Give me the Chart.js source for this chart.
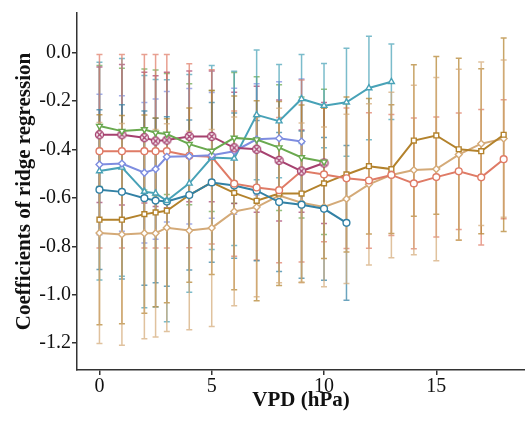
<!DOCTYPE html>
<html>
<head>
<meta charset="utf-8">
<script src="https://cdn.jsdelivr.net/npm/chart.js@4/dist/chart.umd.min.js"></script>
<style>
  html, body { margin: 0; padding: 0; background: #fff; }
</style>
</head>
<body>
<canvas id="ridge" width="525" height="422"></canvas>
<script>
// VPD bins (hPa)
const vpd = [0, 1, 2, 2.5, 3, 4, 5, 6, 7, 8, 9, 10, 11, 12, 13, 14, 15, 16, 17, 18];

// mean ridge coefficients and standard deviations per group
const greenMean = [-0.303, -0.324, -0.317, -0.331, -0.336, -0.378, -0.406, -0.352, -0.359, -0.392, -0.433, -0.451];
const greenSd   = [0.25, 0.26, 0.25, 0.26, 0.25, 0.25, 0.25, 0.27, 0.26, 0.26, 0.25, 0.30];

const magentaMean = [-0.339, -0.339, -0.351, -0.365, -0.361, -0.346, -0.346, -0.393, -0.399, -0.445, -0.489, -0.456];
const magentaSd   = [0.28, 0.29, 0.27, 0.27, 0.28, 0.27, 0.27, 0.23, 0.26, 0.25, 0.17, 0.25];

const salmonMean = [-0.407, -0.407, -0.407, -0.407, -0.407, -0.426, -0.43, -0.541, -0.557, -0.568, -0.489, -0.503, -0.519, -0.528, -0.505, -0.54, -0.514, -0.49, -0.515, -0.44];
const salmonSd   = [0.40, 0.40, 0.40, 0.40, 0.40, 0.38, 0.36, 0.30, 0.30, 0.30, 0.376, 0.278, 0.29, 0.28, 0.25, 0.27, 0.248, 0.241, 0.28, 0.246];

const lilacMean = [-0.462, -0.458, -0.496, -0.481, -0.43, -0.428, -0.424, -0.407, -0.358, -0.354, -0.367];
const lilacSd   = [0.29, 0.28, 0.29, 0.29, 0.27, 0.28, 0.26, 0.26, 0.23, 0.234, 0.258];

const cyanMean = [-0.489, -0.474, -0.574, -0.581, -0.612, -0.54, -0.433, -0.437, -0.257, -0.283, -0.191, -0.219, -0.205, -0.146, -0.12];
const cyanSd   = [0.45, 0.45, 0.48, 0.47, 0.50, 0.45, 0.38, 0.36, 0.268, 0.234, 0.184, 0.174, 0.223, 0.214, 0.156];

const blueMean = [-0.566, -0.575, -0.601, -0.611, -0.615, -0.588, -0.536, -0.549, -0.57, -0.617, -0.628, -0.645, -0.703];
const blueSd   = [0.33, 0.36, 0.36, 0.34, 0.35, 0.31, 0.33, 0.30, 0.29, 0.287, 0.304, 0.295, 0.32];

const brownMean = [-0.69, -0.69, -0.667, -0.66, -0.653, -0.588, -0.536, -0.579, -0.612, -0.582, -0.582, -0.54, -0.503, -0.469, -0.481, -0.363, -0.342, -0.399, -0.407, -0.339];
const brownSd   = [0.434, 0.43, 0.41, 0.39, 0.38, 0.36, 0.38, 0.40, 0.413, 0.38, 0.366, 0.31, 0.32, 0.28, 0.266, 0.313, 0.326, 0.376, 0.341, 0.40];

const tanMean = [-0.745, -0.751, -0.746, -0.746, -0.723, -0.735, -0.724, -0.656, -0.638, -0.59, -0.62, -0.637, -0.604, -0.544, -0.505, -0.485, -0.481, -0.421, -0.376, -0.355];
const tanSd   = [0.457, 0.458, 0.436, 0.429, 0.429, 0.41, 0.407, 0.39, 0.37, 0.36, 0.33, 0.33, 0.35, 0.333, 0.342, 0.35, 0.379, 0.353, 0.338, 0.325];

const yTicks = [-1.2, -1.0, -0.8, -0.6, -0.4, -0.2, 0.0];
const xTicks = [0, 5, 10, 15];

// circle with a cross, drawn once per colour and used as a point image
function circleCross(color) {
  const c = document.createElement('canvas');
  c.width = c.height = 11;
  const g = c.getContext('2d');
  g.fillStyle = '#fff';
  g.strokeStyle = color;
  g.lineWidth = 1.4;
  g.beginPath(); g.arc(5.5, 5.5, 4, 0, Math.PI * 2); g.fill(); g.stroke();
  g.beginPath();
  g.moveTo(3.3, 3.3); g.lineTo(7.7, 7.7);
  g.moveTo(7.7, 3.3); g.lineTo(3.3, 7.7);
  g.stroke();
  return c;
}

function series(mean, sd, color, style, rotation) {
  return {
    data: mean.map((v, i) => ({ x: vpd[i], y: v })),
    sd: sd,
    borderColor: color,
    backgroundColor: '#fff',
    borderWidth: 2,
    pointStyle: style,
    pointRotation: rotation || 0,
    pointRadius: 3.4,
    pointBorderWidth: 1.4,
    pointBackgroundColor: '#fff',
    pointBorderColor: color,
    tension: 0
  };
}

// vertical error bars with caps, drawn under the lines
const errorBars = {
  id: 'errorBars',
  beforeDatasetsDraw(chart) {
    const { ctx, chartArea, scales: { x, y } } = chart;
    ctx.save();
    ctx.beginPath();
    ctx.rect(chartArea.left, chartArea.top, chartArea.width, chartArea.height);
    ctx.clip();
    ctx.lineWidth = 1.5;
    ctx.globalAlpha = 0.72;
    chart.data.datasets.forEach(ds => {
      ctx.strokeStyle = ds.borderColor;
      ds.data.forEach((p, j) => {
        const px = x.getPixelForValue(p.x);
        const top = y.getPixelForValue(p.y + ds.sd[j]);
        const bot = y.getPixelForValue(p.y - ds.sd[j]);
        ctx.beginPath();
        ctx.moveTo(px, top); ctx.lineTo(px, bot);
        ctx.moveTo(px - 3, top); ctx.lineTo(px + 3, top);
        ctx.moveTo(px - 3, bot); ctx.lineTo(px + 3, bot);
        ctx.stroke();
      });
    });
    ctx.restore();
  }
};

const serif = 'Liberation Serif, "Times New Roman", serif';
const axisColor = '#333';

new Chart(document.getElementById('ridge'), {
  type: 'line',
  data: {
    datasets: [
      series(greenMean, greenSd, '#6aa94f', 'triangle', 180),
      series(magentaMean, magentaSd, '#a6416f', circleCross('#a6416f')),
      series(lilacMean, lilacSd, '#7e8de0', 'rectRot'),
      series(cyanMean, cyanSd, '#48a2b7', 'triangle'),
      series(salmonMean, salmonSd, '#df7b66', 'circle'),
      series(blueMean, blueSd, '#3281a5', 'circle'),
      series(brownMean, brownSd, '#b3822c', 'rect'),
      series(tanMean, tanSd, '#d4aa78', 'rectRot')
    ]
  },
  options: {
    responsive: false,
    devicePixelRatio: 1,
    animation: false,
    layout: { autoPadding: false, padding: { top: 10, right: 0, left: 0, bottom: 0 } },
    plugins: { legend: { display: false }, tooltip: { enabled: false } },
    scales: {
      x: {
        type: 'linear',
        min: -1,
        max: 18.95,
        afterFit: s => { s.height = 52; },
        afterBuildTicks: s => { s.ticks = xTicks.map(v => ({ value: v })); },
        grid: { drawOnChartArea: false, drawTicks: true, tickLength: 5, color: axisColor, lineWidth: 1.5 },
        border: { color: axisColor, width: 1.5 },
        ticks: { color: '#111', padding: 0, font: { family: serif, size: 20 }, callback: v => String(v) },
        title: { display: true, text: 'VPD (hPa)', color: '#111', padding: { top: 0, bottom: 9 },
                 font: { family: serif, size: 21, weight: 'bold' } }
      },
      y: {
        min: -1.311,
        max: 0.164,
        afterFit: s => { s.width = 77; },
        afterBuildTicks: s => { s.ticks = yTicks.map(v => ({ value: v })); },
        grid: { drawOnChartArea: false, drawTicks: true, tickLength: 5, color: axisColor, lineWidth: 1.5 },
        border: { color: axisColor, width: 1.5 },
        ticks: { color: '#111', padding: 1, font: { family: serif, size: 20 }, callback: v => v.toFixed(1) },
        title: { display: true, text: 'Coefficients of ridge regression', color: '#111', padding: { top: 12, bottom: 0 },
                 font: { family: serif, size: 21, weight: 'bold' } }
      }
    }
  },
  plugins: [errorBars]
});
</script>
</body>
</html>
